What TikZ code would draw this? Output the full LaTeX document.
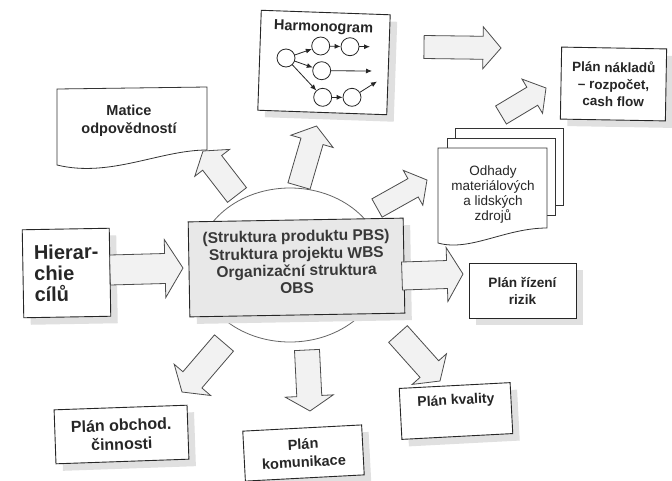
\documentclass[tikz,border=0pt]{standalone}
\usepackage{fontspec}
\setmainfont{Liberation Sans}
\usetikzlibrary{calc,shapes.geometric,shadows,arrows.meta}

% Broad block arrow from tail #2 to tip #3 (shaft half width #4, head half width #5, head length #6)
\newcommand\fatarrow[6]{%
  \coordinate (#1n) at ($(#3)!#6!(#2)$);
  \draw[fat] ($(#2)!#4!90:(#3)$) -- ($(#1n)!#4!90:(#3)$) -- ($(#1n)!#5!90:(#3)$) -- (#3)
    -- ($(#1n)!#5!-90:(#3)$) -- ($(#1n)!#4!-90:(#3)$) -- ($(#2)!#4!-90:(#3)$) -- cycle;
}

\begin{document}
\begin{tikzpicture}[x=1pt,y=-1pt,
  box/.style={draw=black!85, line width=0.9pt, fill=white, align=center, inner sep=2pt,
    general shadow={shadow xshift=7pt, shadow yshift=-7pt, fill=black!12},
    font=\bfseries\fontsize{14}{17}\selectfont, text=black!85},
  lbl/.style={font=\bfseries\fontsize{14}{17}\selectfont, text=black!85, align=center, inner sep=0pt},
  fat/.style={draw=black!70, line width=0.8pt, fill=black!5, line join=miter},
  sheet/.style={draw=black!80, line width=0.8pt, fill=white},
  hnode/.style={circle, draw=black!85, line width=0.8pt, fill=white, minimum size=18pt, inner sep=0pt},
  harr/.style={-{Latex[length=6pt,width=5pt]}, line width=0.8pt, draw=black!85},
]
\useasboundingbox[fill=white] (0,0) rectangle (672,480);

% central ellipse and structure box
\node[ellipse, draw=black!60, line width=0.8pt, fill=white, minimum width=186pt, minimum height=154pt, inner sep=0pt] (ell) at (290,265) {};
\node[box, fill=black!9, minimum width=215pt, minimum height=95pt, rotate=1] (core) at (296.5,267.5) {};
\node[lbl, font=\bfseries\fontsize{15.5}{17.3}\selectfont, text=black!78, rotate=1] (coretext) at (296.5,262)
  {(Struktura produktu PBS)\\Struktura projektu WBS\\Organizační struktura\\OBS};

% goal hierarchy
\node[box, minimum width=87pt, minimum height=88pt, align=left, font=\bfseries\fontsize{20}{21}\selectfont, rotate=1] (hier) at (66.5,273) {Hierar-\\chie\\cílů};

% responsibility matrix (document shape)
\draw[sheet] (57,165) -- (57,89) -- (207,87) -- (207,150) .. controls (160,150) and (110,178) .. (57,165) -- cycle;
\node[lbl, font=\bfseries\fontsize{14.5}{18}\selectfont] (matice) at (129,121) {Matice\\odpovědností};

% schedule
\node[box, minimum width=129pt, minimum height=100pt, rotate=-2] (harm) at (324,62.5) {};
\node[lbl, font=\bfseries\fontsize{14.5}{17}\selectfont, rotate=-2] (harmt) at (323.5,28) {Harmonogram};
\node[hnode] (c0) at (286,58) {};
\node[hnode] (c1) at (320.7,46) {};
\node[hnode] (c2) at (350,46.7) {};
\node[hnode] (c3) at (321.7,70.7) {};
\node[hnode] (c4) at (322.7,97.3) {};
\node[hnode] (c5) at (352,97.3) {};
\coordinate (e2) at (370,46.7);
\coordinate (e3) at (372,71);
\coordinate (e5) at (377,81.5);
\draw[harr] (c0) -- (c1);
\draw[harr] (c1) -- (c2);
\draw[harr] (c2) -- (e2);
\draw[harr] (c0) -- (c3);
\draw[harr] (c3) -- (e3);
\draw[harr] (c0) -- (c4);
\draw[harr] (c4) -- (c5);
\draw[harr] (c5) -- (e5);

% cost plan
\node[box, minimum width=105pt, minimum height=72pt, font=\bfseries\fontsize{13.5}{17}\selectfont, rotate=-1] (naklady) at (613.5,84) {Plán nákladů\\– rozpočet,\\cash flow};

% stacked estimate sheets
\draw[sheet] (455,205) -- (455,128) -- (563,128) -- (563,205) -- cycle;
\draw[sheet] (447,215) -- (447,138) -- (555,138) -- (555,215) -- cycle;
\draw[sheet] (438,243) -- (438,148) -- (547,148) -- (547,228) .. controls (505,228) and (470,252) .. (438,243) -- cycle;
\node[lbl, font=\fontsize{13.5}{15}\selectfont] (odhady) at (493,195) {Odhady\\materiálových\\a lidských\\zdrojů};

% risk plan
\node[box, minimum width=107pt, minimum height=55pt, font=\bfseries\fontsize{13.6}{17}\selectfont] (rizika) at (522.5,290.5) {Plán řízení\\rizik};

% quality plan
\node[box, minimum width=111pt, minimum height=51pt, rotate=3] (kval) at (456,411) {};
\node[lbl, rotate=3] (kvalt) at (456,401) {Plán kvality};

% communication plan
\node[box, minimum width=119pt, minimum height=50pt, font=\bfseries\fontsize{14.5}{18}\selectfont, rotate=3] (komun) at (303.5,453) {Plán\\komunikace};

% business activity plan
\node[box, minimum width=133pt, minimum height=54pt, font=\bfseries\fontsize{16}{19}\selectfont, rotate=2] (obchod) at (121.5,434.5) {Plán obchod.\\činnosti};

% block arrows
\coordinate (a1t) at (110,270);   \coordinate (a1h) at (183,268);
\coordinate (a2t) at (237,195);   \coordinate (a2h) at (203,151);
\coordinate (a3t) at (299,186);   \coordinate (a3h) at (316.5,126);
\coordinate (a4t) at (377,208);   \coordinate (a4h) at (427,180);
\coordinate (a5t) at (402,276);   \coordinate (a5h) at (463,274);
\coordinate (a6t) at (398,334);   \coordinate (a6h) at (440,381);
\coordinate (a7t) at (307,350);   \coordinate (a7h) at (310,411);
\coordinate (a8t) at (224,343);   \coordinate (a8h) at (182,392);
\coordinate (a9t) at (424,47);    \coordinate (a9h) at (501,48);
\coordinate (a10t) at (501,115);  \coordinate (a10h) at (546,88);
\fatarrow{a1}{a1t}{a1h}{15pt}{29pt}{18pt}
\fatarrow{a2}{a2t}{a2h}{12pt}{22pt}{15pt}
\fatarrow{a3}{a3t}{a3h}{11.5pt}{22pt}{16pt}
\fatarrow{a4}{a4t}{a4h}{10.5pt}{20pt}{16pt}
\fatarrow{a5}{a5t}{a5h}{14pt}{27pt}{16pt}
\fatarrow{a6}{a6t}{a6h}{12.5pt}{23pt}{16pt}
\fatarrow{a7}{a7t}{a7h}{12.5pt}{24pt}{15pt}
\fatarrow{a8}{a8t}{a8h}{12.5pt}{24pt}{16pt}
\fatarrow{a9}{a9t}{a9h}{11.5pt}{21pt}{18pt}
\fatarrow{a10}{a10t}{a10h}{10.5pt}{20pt}{16pt}
\end{tikzpicture}
\end{document}
